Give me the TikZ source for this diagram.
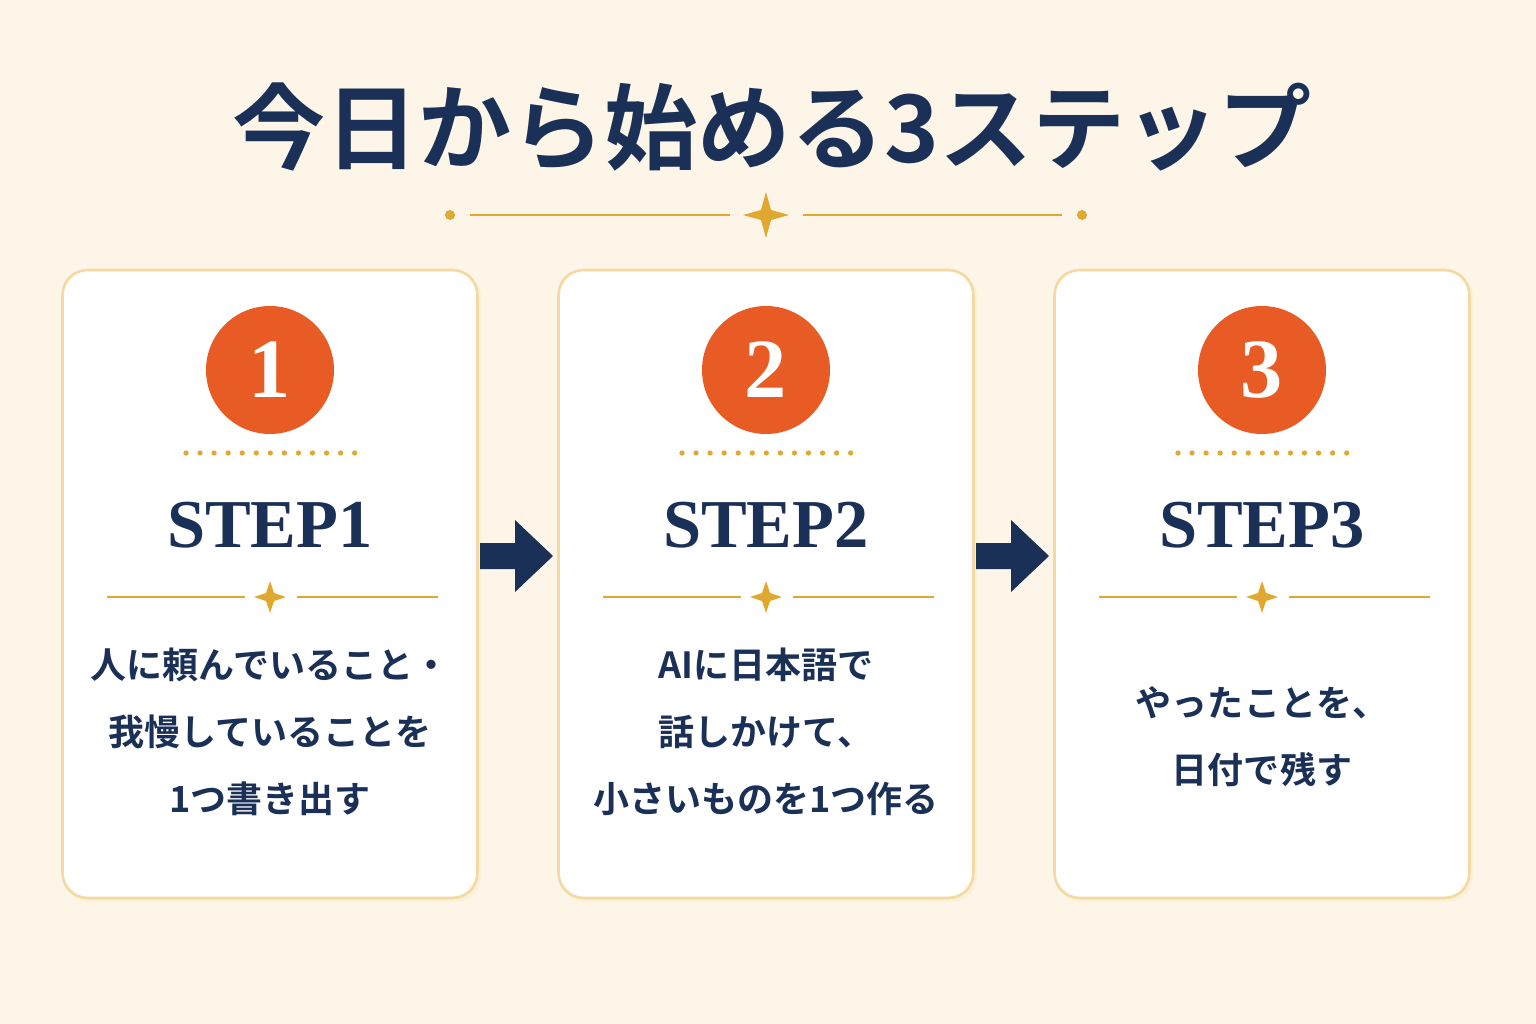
\documentclass[tikz,border=0pt]{standalone}
\usepackage{fontspec}
\setmainfont{Liberation Serif}
\newfontfamily\jp{Noto Sans CJK JP}[BoldFont={* Bold}]
\begin{document}
\definecolor{bg}{HTML}{FDF6E8}
\definecolor{navy}{HTML}{1B3057}
\definecolor{org}{HTML}{E95B25}
\definecolor{gold}{HTML}{E0A830}
\definecolor{cardb}{HTML}{F5D9A0}
\begin{tikzpicture}[x=0.02cm,y=-0.02cm,
 card/.style={draw=cardb,line width=1.5pt,fill=white,rounded corners=0.5cm},
 num/.style={circle,fill=org,minimum size=2.56cm,inner sep=0,text=white,font=\fontsize{48}{48}\selectfont\bfseries},
 stp/.style={text=navy,font=\fontsize{39}{39}\selectfont\bfseries},
 body/.style={text=navy,font=\jp\bfseries\fontsize{20.5}{38}\selectfont,align=center},
 gl/.style={draw=gold,line width=0.8pt}]
\fill[bg] (0,0) rectangle (1536,1024);
\useasboundingbox (0,0) rectangle (1536,1024);
\node[text=navy,font=\jp\bfseries\fontsize{53}{53}\selectfont] (title) at (772,127) {今日から始める3ステップ};
\fill[gold] (450,215) circle (5);
\fill[gold] (1082,215) circle (5);
\draw[gl] (470,215) -- (730,215);
\draw[gl] (803,215) -- (1062,215);
\fill[gold] (766,192) -- (771,210) -- (789,215) -- (771,220) -- (766,238) -- (761,220) -- (743,215) -- (761,210) -- cycle;
\foreach \cx/\n in {270/1,766/2,1262/3}{
 \path[card,fill=cardb!40,draw=none] (\cx-205,273) rectangle (\cx+211,902);
 \node[card,minimum width=8.3cm,minimum height=12.56cm] (c\n) at (\cx,584) {};
 \node[num] (n\n) at (\cx,370) {\n};
 \draw[gold,line width=3pt,dash pattern=on 0pt off 8pt,line cap=round] (\cx-84,453) -- (\cx+86,453);
 \node[stp] (s\n) at (\cx,525) {STEP\n};
 \draw[gl] (\cx-163,597) -- (\cx-25,597);
 \draw[gl] (\cx+27,597) -- (\cx+168,597);
 \fill[gold] (\cx,581) -- (\cx+4,593) -- (\cx+16,597) -- (\cx+4,601) -- (\cx,613) -- (\cx-4,601) -- (\cx-16,597) -- (\cx-4,593) -- cycle;
}
\node[body] (t1) at (270,732) {人に頼んでいること・\\我慢していることを\\1つ書き出す};
\node[body] (t2) at (766,732) {AIに日本語で\\話しかけて、\\小さいものを1つ作る};
\node[body] (t3) at (1262,737) {やったことを、\\日付で残す};
\foreach \ax in {480,976}{
 \fill[navy] (\ax,543) -- (\ax+35,543) -- (\ax+35,520) -- (\ax+73,556) -- (\ax+35,592) -- (\ax+35,569) -- (\ax,569) -- cycle;
}
\end{tikzpicture}
\end{document}
